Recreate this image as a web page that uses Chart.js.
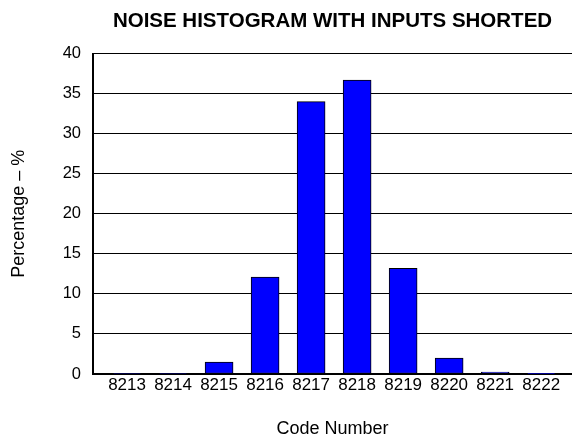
<!DOCTYPE html>
<html>
<head>
<meta charset="utf-8">
<script src="https://cdn.jsdelivr.net/npm/chart.js@4"></script>
<style>
    html, body { margin: 0; padding: 0; background: #fff; }
    #wrap { width: 572px; height: 440px; }
</style>
</head>
<body>
<div id="wrap"><canvas id="chart-noise"></canvas></div>
<script>
// data
const codes = [8213, 8214, 8215, 8216, 8217, 8218, 8219, 8220, 8221, 8222];
const percentages = [0.06, 0.06, 1.5, 12.1, 34.0, 36.7, 13.2, 2.0, 0.25, 0.08];
const yTicks = [0, 5, 10, 15, 20, 25, 30, 35, 40];

const FONT = '"Liberation Sans", Arial, Helvetica, sans-serif';

function createHistogram(idChart) {

    const ctx = document.getElementById(idChart).getContext('2d');

    const points = codes.map((c, i) => ({ x: c, y: percentages[i] }));

    const myChart = new Chart(ctx, {
        type: 'bar',
        data: {
            datasets: [{
                label: 'Percentage',
                data: points,
                backgroundColor: '#0000ff',
                borderColor: '#000000',
                borderWidth: 1,
                borderSkipped: false,
                barThickness: 28,
            }]
        },
        options: {
            responsive: true,
            maintainAspectRatio: false,
            animation: false,
            layout: { padding: { left: 0, right: 0, top: 0, bottom: 0 } },
            plugins: {
                legend: { display: false },
                tooltip: { enabled: false },
                title: {
                    display: true,
                    text: 'NOISE HISTOGRAM WITH INPUTS SHORTED',
                    fullSize: false,
                    color: '#000',
                    font: { family: FONT, size: 20.5, weight: 'bold' },
                    padding: { top: 9, bottom: 20 },
                },
            },
            scales: {
                x: {
                    type: 'linear',
                    offset: false,
                    min: 8212.26,
                    max: 8222.67,
                    grid: { display: false, drawTicks: false, tickLength: 0 },
                    border: { display: true, color: '#000', width: 2 },
                    afterBuildTicks: (scale) => {
                        scale.ticks = codes.map(c => ({ value: c }));
                    },
                    afterFit: (scale) => { scale.height = 66; },
                    ticks: {
                        color: '#000',
                        padding: 1,
                        autoSkip: false,
                        maxRotation: 0,
                        font: { family: FONT, size: 17 },
                        callback: (v) => String(v),
                    },
                    title: {
                        display: true,
                        text: 'Code Number',
                        color: '#000',
                        font: { family: FONT, size: 18 },
                        padding: { top: 0, bottom: 0 },
                    },
                },
                y: {
                    min: 0,
                    max: 40,
                    afterBuildTicks: (scale) => {
                        scale.ticks = yTicks.map(v => ({ value: v }));
                    },
                    afterFit: (scale) => { scale.width = 93; },
                    grid: { color: '#000', lineWidth: 1, drawTicks: false },
                    border: { display: true, color: '#000', width: 2 },
                    ticks: {
                        color: '#000',
                        padding: 12,
                        font: { family: FONT, size: 16.5 },
                    },
                    title: {
                        display: true,
                        text: 'Percentage – %',
                        color: '#000',
                        font: { family: FONT, size: 18 },
                        padding: { top: 8, bottom: 0 },
                    },
                },
            },
        }
    });

    return myChart;
}

createHistogram('chart-noise');
</script>
</body>
</html>
